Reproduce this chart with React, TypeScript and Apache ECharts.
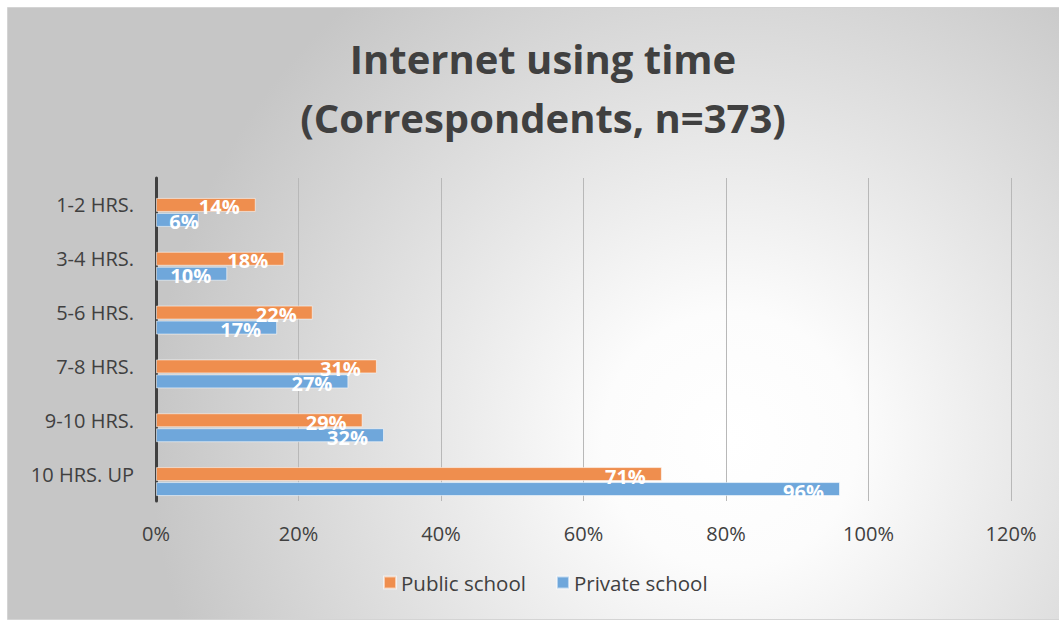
import React, { useEffect, useRef } from "react";
import * as echarts from "echarts";

const categories = ["1-2 HRS.", "3-4 HRS.", "5-6 HRS.", "7-8 HRS.", "9-10 HRS.", "10 HRS. UP"];
const publicSchool = [14, 18, 22, 31, 29, 71];
const privateSchool = [6, 10, 17, 27, 32, 96];
const xTicks = { min: 0, max: 120, interval: 20 };
const titleText = "Internet using time\n(Correspondents, n=373)";

const FONT = "'Open Sans', Lato, sans-serif";
const TXT = "#404040";

export default function App() {
  const ref = useRef<HTMLDivElement>(null);
  useEffect(() => {
    if (!ref.current) return;
    const chart = echarts.init(ref.current, null, { renderer: "svg" });
    const label = {
      show: true,
      position: "insideRight",
      distance: 16,
      offset: [0, 2],
      color: "#ffffff",
      fontWeight: "bold",
      fontSize: 20,
      fontFamily: FONT,
      formatter: (p: any) => p.value + "%",
    };
    // short bars keep their label inside the plot
    const toItems = (arr: number[]) =>
      arr.map((v) => (v < 8 ? { value: v, label: { distance: 0 } } : v));
    chart.setOption({
      animation: false,
      graphic: [
        {
          type: "rect",
          z: -10,
          silent: true,
          shape: { x: 7.5, y: 7.5, width: 1060, height: 612 },
          style: {
            stroke: "#d4d4d4",
            lineWidth: 1,
            fill: new echarts.graphic.RadialGradient(
              730,
              440,
              580,
              [
                { offset: 0, color: "#ffffff" },
                { offset: 0.22, color: "#fcfcfc" },
                { offset: 1, color: "#c6c6c6" },
              ],
              true
            ),
          },
        },
      ],
      title: {
        text: titleText,
        left: 538,
        textAlign: "center",
        top: 24,
        textStyle: {
          fontFamily: FONT,
          fontWeight: "bold",
          fontSize: 40,
          lineHeight: 59,
          color: TXT,
        },
      },
      legend: {
        data: ["Public school", "Private school"],
        bottom: 23,
        left: 378,
        icon: "rect",
        itemWidth: 12,
        itemHeight: 12,
        itemGap: 30,
        textStyle: { fontFamily: FONT, fontSize: 20.5, color: TXT },
      },
      grid: { left: 156, right: 48, top: 178, bottom: 120, containLabel: false },
      xAxis: {
        type: "value",
        min: xTicks.min,
        max: xTicks.max,
        interval: xTicks.interval,
        axisLabel: {
          formatter: "{value}%",
          fontFamily: FONT,
          fontSize: 20,
          color: TXT,
          margin: 22,
        },
        axisLine: { show: false },
        axisTick: { show: false },
        splitLine: { show: true, lineStyle: { color: "#b8b8b8", width: 1 } },
      },
      yAxis: {
        type: "category",
        data: categories,
        inverse: true,
        axisLabel: { fontFamily: FONT, fontSize: 20, color: TXT, margin: 22 },
        axisLine: { show: true, lineStyle: { color: "#404040", width: 3 } },
        axisTick: { show: false },
      },
      series: [
        {
          name: "",
          type: "bar",
          data: [],
          barWidth: 14,
          barGap: "7%",
        },
        {
          name: "Public school",
          type: "bar",
          data: toItems(publicSchool),
          barWidth: 14,
          barGap: "7%",
          itemStyle: { color: "#EF8E4E", borderColor: "rgba(255,255,255,0.55)", borderWidth: 1 },
          label,
        },
        {
          name: "Private school",
          type: "bar",
          data: toItems(privateSchool),
          barWidth: 14,
          barGap: "7%",
          itemStyle: { color: "#6FA7DB", borderColor: "rgba(255,255,255,0.55)", borderWidth: 1 },
          label,
        },
      ],
    });
    return () => chart.dispose();
  }, []);
  return (
    <div
      ref={ref}
      style={{ position: "absolute", left: 0, top: 0, width: 1059, height: 621 }}
    />
  );
}
